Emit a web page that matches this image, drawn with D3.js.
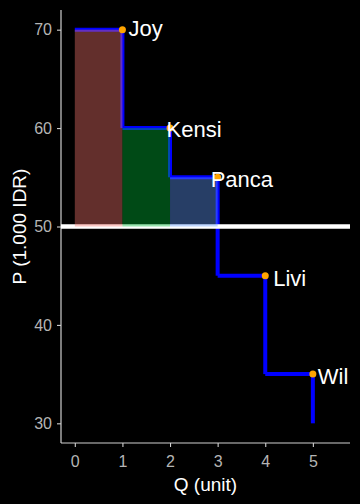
<!DOCTYPE html>
<html><head><meta charset="utf-8">
<script src="https://cdn.jsdelivr.net/npm/d3@7"></script>
<style>html,body{margin:0;padding:0;background:#000;} svg{display:block;background:#000}</style>
</head><body>
<svg id="chart" width="360" height="504"></svg>
<script>
// ---- data ----
const consumers = ["Joy", "Kensi", "Panca", "Livi", "Wil"];
const quantity = [1, 2, 3, 4, 5];
const price = [70, 60, 55, 45, 35];
const lowestPrice = 30;
const marketPrice = 50;
const surplusFill = ["#F8766D", "#00BA38", "#619CFF"];
const xTicks = [0, 1, 2, 3, 4, 5];
const yTicks = [30, 40, 50, 60, 70];
const xTitle = "Q (unit)";
const yTitle = "P (1.000 IDR)";

// ---- drawing ----
const svg = d3.select("#chart");
const font = "'Liberation Sans', Arial, sans-serif";
const x = d3.scaleLinear().domain([-0.29, 5.78]).range([61, 350]);
const y = d3.scaleLinear().domain([28, 72]).range([443, 10]);

svg.append("rect").attr("width", 360).attr("height", 504).attr("fill", "#000");

// axes
const axisColor = "#d0d0d0";
const tickText = "#b5b5b5";
const gx = svg.append("g").attr("transform", "translate(0,443)")
  .call(d3.axisBottom(x).tickValues(xTicks).tickFormat(d3.format("d")).tickSize(4).tickSizeOuter(0).tickPadding(8.5));
const gy = svg.append("g").attr("transform", "translate(61,0)")
  .call(d3.axisLeft(y).tickValues(yTicks).tickFormat(d3.format("d")).tickSize(4).tickSizeOuter(0).tickPadding(5));
[gx, gy].forEach(g => {
  g.select(".domain").attr("stroke", axisColor).attr("stroke-width", 1.2);
  g.selectAll(".tick line").attr("stroke", axisColor).attr("stroke-width", 1.1);
  g.selectAll(".tick text").attr("fill", tickText).attr("font-size", 16).attr("font-family", font);
});
// extend y axis line to top of panel and x axis to the corner
gy.select(".domain").attr("d", `M0,${y.range()[1]}V${y.range()[0]}`);
gx.select(".domain").attr("d", `M${x.range()[0]},0H${x.range()[1]}`);

// step segments (demand curve)
const lineG = svg.append("g").attr("stroke", "#0000ff").attr("stroke-width", 4).attr("stroke-linecap", "butt");
quantity.forEach((q, i) => {
  lineG.append("line").attr("x1", x(q - 1)).attr("x2", x(q)).attr("y1", y(price[i])).attr("y2", y(price[i]));
  const next = i < price.length - 1 ? price[i + 1] : lowestPrice;
  lineG.append("line").attr("x1", x(q)).attr("x2", x(q)).attr("y1", y(price[i])).attr("y2", y(next));
});

// market price line
svg.append("line").attr("x1", x.range()[0]).attr("x2", x.range()[1])
  .attr("y1", y(marketPrice)).attr("y2", y(marketPrice))
  .attr("stroke", "#ffffff").attr("stroke-width", 4.5);

// consumer surplus rectangles
surplusFill.forEach((c, i) => {
  svg.append("rect")
    .attr("x", x(quantity[i] - 1)).attr("width", x(quantity[i]) - x(quantity[i] - 1))
    .attr("y", y(price[i])).attr("height", y(marketPrice) - y(price[i]))
    .attr("fill", c).attr("fill-opacity", 0.4);
});

// points
svg.append("g").selectAll("circle").data(quantity).join("circle")
  .attr("cx", d => x(d)).attr("cy", (d, i) => y(price[i])).attr("r", 3.5).attr("fill", "#ffa500");

// labels (repelled offsets in px)
const nudge = [[6, -1.5], [-3.5, 1], [-7, 1.5], [8, 2.5], [5, 2]];
svg.append("g").selectAll("text").data(consumers).join("text")
  .attr("x", (d, i) => x(quantity[i]) + nudge[i][0])
  .attr("y", (d, i) => y(price[i]) + nudge[i][1])
  .attr("dy", "0.36em")
  .attr("fill", "#ffffff").attr("font-size", 22).attr("font-family", font)
  .text(d => d);

// titles
svg.append("text").attr("x", (x.range()[0] + x.range()[1]) / 2).attr("y", 491)
  .attr("text-anchor", "middle").attr("fill", "#ffffff").attr("font-size", 19).attr("font-family", font)
  .text(xTitle);
svg.append("text").attr("transform", `translate(25.5,${(y.range()[0] + y.range()[1]) / 2}) rotate(-90)`)
  .attr("text-anchor", "middle").attr("fill", "#ffffff").attr("font-size", 19).attr("font-family", font)
  .text(yTitle);
</script>
</body></html>
